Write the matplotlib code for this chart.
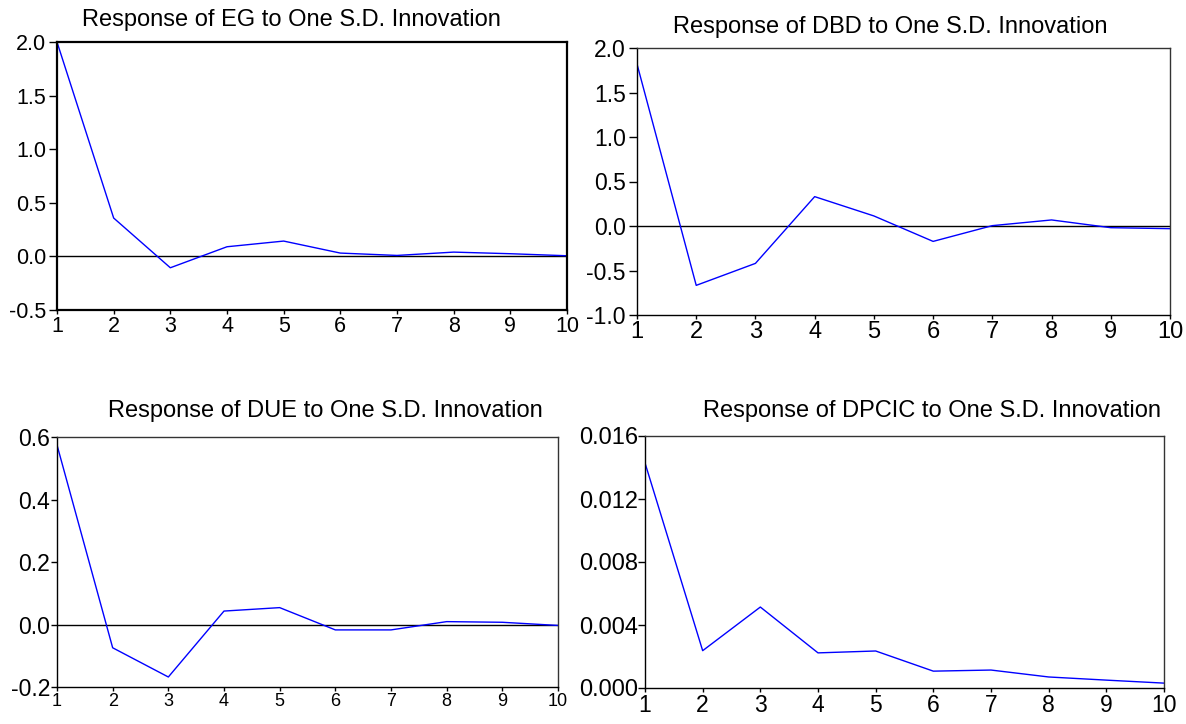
import numpy as np
import matplotlib
matplotlib.use('Agg')
import matplotlib.pyplot as plt

plt.rcParams['font.family'] = ['Liberation Sans', 'DejaVu Sans']

# Horizonte
periods = np.arange(1, 11)

# Respostas a um choque de um desvio padrão
eg = [2.0, 0.358, -0.106, 0.09, 0.143, 0.031, 0.009, 0.04, 0.025, 0.006]
dbd = [1.82, -0.667, -0.42, 0.33, 0.113, -0.173, 0.004, 0.068, -0.019, -0.03]
due = [0.5745, -0.0745, -0.168, 0.043, 0.054, -0.0173, -0.0173, 0.0092, 0.0071, -0.003]
dpcic = [0.01429, 0.00237, 0.00514, 0.00223, 0.00235, 0.00107, 0.00114, 0.0007, 0.0005, 0.00031]

titles = ['Response of EG to One S.D. Innovation',
          'Response of DBD to One S.D. Innovation',
          'Response of DUE to One S.D. Innovation',
          'Response of DPCIC to One S.D. Innovation']

yticks_eg = [-0.5, 0.0, 0.5, 1.0, 1.5, 2.0]
yticks_dbd = [-1.0, -0.5, 0.0, 0.5, 1.0, 1.5, 2.0]
yticks_due = [-0.2, 0.0, 0.2, 0.4, 0.6]
yticks_dpcic = [0.000, 0.004, 0.008, 0.012, 0.016]

W, H = 1186, 724
fig = plt.figure(figsize=(W / 100, H / 100), dpi=100)


def make_ax(left, right, top, bottom):
    return fig.add_axes([left / W, 1 - bottom / H, (right - left) / W, (bottom - top) / H])


# (dados, ticks, formato, caixa em pixels, fonte x, fonte y, tick y, pad y, titulo x, titulo y, linha zero, moldura)
panels = [
    (eg, yticks_eg, '%.1f', (57, 567, 42, 310), 15.5, 15.5, 6, 2, 291, 20, True, 'black', 1.6),
    (dbd, yticks_dbd, '%.1f', (637, 1170, 48, 315), 17, 16.5, 6, 2, 890, 27, True, '#333333', 1.0),
    (due, yticks_due, '%.1f', (57, 558, 437, 687), 13, 16.5, 4, 1, 325, 411, True, '#333333', 1.0),
    (dpcic, yticks_dpcic, '%.3f', (645, 1164, 436, 688), 16.5, 17, 5, 0, 932, 411, False, '#333333', 1.0),
]

for (vals, yt, fmt, box, xfs, yfs, ylen, ypad, tx, ty, zero, fcol, flw), title in zip(panels, titles):
    ax = make_ax(*box)
    ax.plot(periods, vals, color='blue', lw=1.0)
    if zero:
        ax.axhline(0, color='black', lw=1.0, zorder=1)
    ax.set_xlim(1, 10)
    ax.set_ylim(yt[0], yt[-1])
    ax.set_xticks(periods)
    ax.set_yticks(yt)
    ax.set_yticklabels([fmt % v for v in yt])
    ax.tick_params(axis='x', direction='out', length=3, width=1, pad=1, labelsize=xfs)
    ax.tick_params(axis='y', direction='out', length=ylen, width=1, pad=ypad, labelsize=yfs)
    ax.tick_params(top=False, right=False)
    for s in ax.spines.values():
        s.set_color(fcol)
        s.set_linewidth(flw)
    ax.spines['left'].set_color('black')
    ax.spines['bottom'].set_color('black')
    fig.text(tx / W, 1 - ty / H, title, ha='center', va='center', fontsize=17)

fig.savefig('out.png', dpi=100, facecolor='white')
